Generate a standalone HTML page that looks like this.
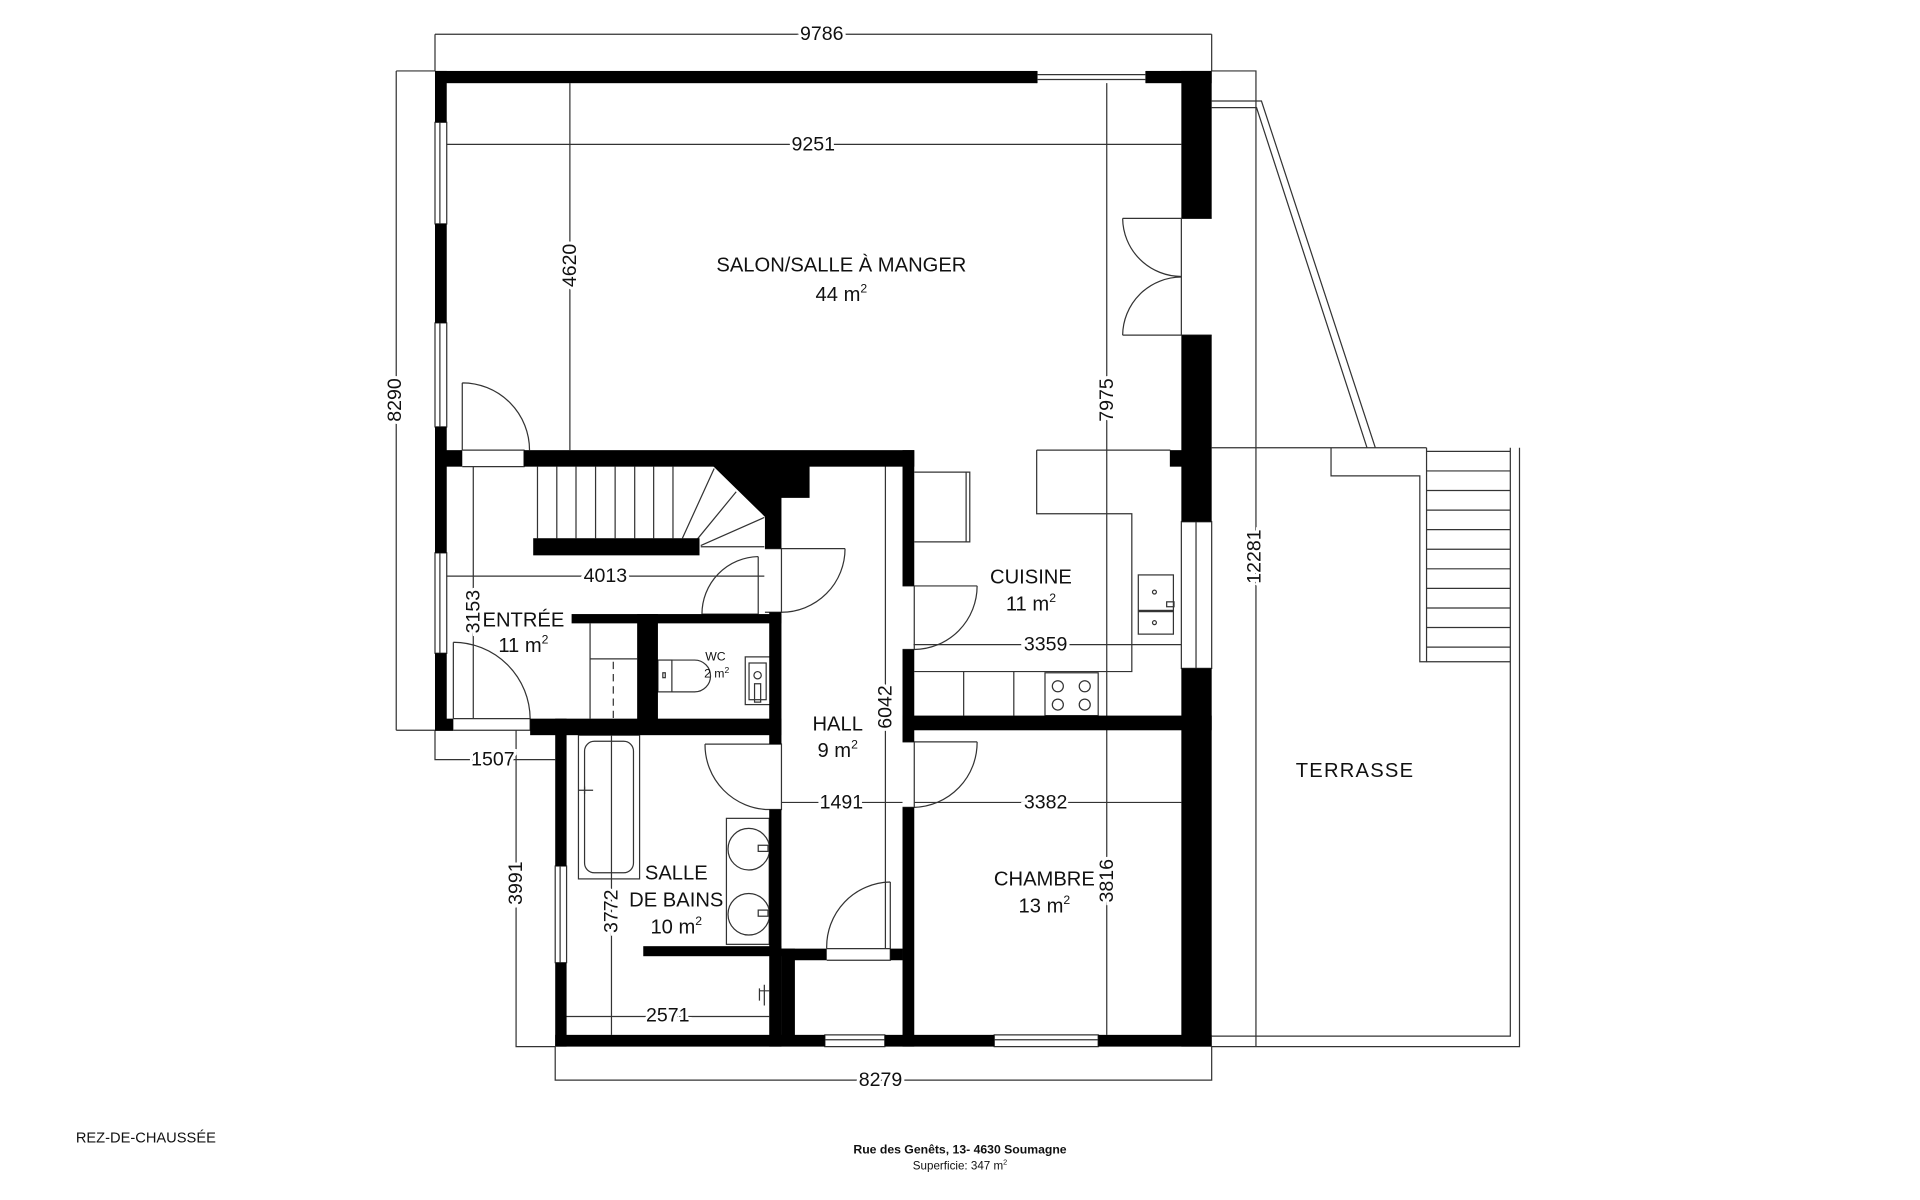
<!DOCTYPE html>
<html><head><meta charset="utf-8"><style>
html,body{margin:0;padding:0;background:#fff}
svg{display:block}
text{font-family:"Liberation Sans",sans-serif;fill:#111}
.d{font-size:16px;text-anchor:middle;dominant-baseline:central;paint-order:stroke;stroke:#fff;stroke-width:5px}
.r{font-size:16.5px;text-anchor:middle}
</style></head><body>
<svg width="1920" height="1200" viewBox="0 0 1570 981" preserveAspectRatio="none" xmlns="http://www.w3.org/2000/svg">
<rect width="1570" height="981" fill="#fff"/>
<g fill="none" stroke="#333" stroke-width="1">
<path d="M355.7 28H990.8M355.7 28V58M990.8 28V58"/>
<path d="M324 58V597M324 58H355.7M324 597H355.7"/>
<path d="M365 118H966"/>
<path d="M466 68V368"/>
<path d="M905 68V846"/>
<path d="M365 471H625"/>
<path d="M387 381V587"/>
<path d="M747 527H966"/>
<path d="M724 381V775"/>
<path d="M355.7 597V621H454M422 597V855.6H454"/>
<path d="M639 656H738M747.6 656H966"/>
<path d="M500 601V846"/>
<path d="M463 831H629"/>
<path d="M454 855.6V883H990.8V855.6"/>
<path d="M990.8 58H1027V855.6"/>
<path d="M990.8 82.6H1031.5L1124.6 366M990.8 88H1027.5L1117.8 366"/>
<path d="M990.8 366H1166.5M1088.4 366V389H1161V541H1166.5V366"/>
<path d="M1166.5 369H1235M1166.5 541H1235"/>
<path d="M1166.5 385H1235M1166.5 401H1235M1166.5 417H1235M1166.5 433H1235M1166.5 449H1235M1166.5 465H1235M1166.5 481H1235M1166.5 497H1235M1166.5 513H1235M1166.5 529H1235"/>
<path d="M1235 366V847H990.8M1242.5 366V855.6H990.8"/>
<path d="M847.7 368H957M847.7 368V420H925.5V549H747.6"/>
<path d="M747.6 386H793V443H747.6M790 386V443"/>
<path d="M788 549V585M829 549V585"/>
<rect x="854.5" y="550" width="43.5" height="35"/>
<circle cx="865" cy="561" r="4.5"/><circle cx="887" cy="561" r="4.5"/><circle cx="865" cy="576" r="4.5"/><circle cx="887" cy="576" r="4.5"/>
<rect x="930.8" y="470" width="28.7" height="29"/><rect x="930.8" y="500" width="28.7" height="18.4"/>
<circle cx="944" cy="484" r="1.6"/><circle cx="944" cy="509" r="1.6"/><rect x="954" y="492" width="6" height="4"/>
<path d="M848 58V68M937 58V68M848 61H937M848 65H937"/>
<path d="M966 426.5H990.8V546.4H966ZM978 426.5V546.4"/>
<path d="M966 178.5H990.8M966 274H990.8M966 178.5V274"/>
<path d="M355.7 100H365.3V183H355.7ZM359.7 100V183M355.7 264H365.3V349H355.7ZM359.7 264V349M355.7 452H365.3V534H355.7ZM359.7 452V534"/>
<path d="M454 708H463.3V787H454ZM458 708V787"/>
<path d="M674.5 846H723.5V855.6H674.5ZM674.5 850H723.5M813 846H898V855.6H813ZM813 850H898"/>
<path d="M918 178.5H966M918 274H966M918 178.5A48 48 0 0 0 966 226M918 274A48 48 0 0 1 966 226.5"/>
<path d="M378 313V368M378 313A55 55 0 0 1 433 368M378 368H428.5V381.5H378"/>
<path d="M370.7 525V587.5M370.7 525A63 63 0 0 1 433.5 587.5M370.7 587.5H433.5V597H370.7"/>
<path d="M620 455V502M620 455A47 47 0 0 0 574 502M574 502H620"/>
<path d="M639 448.5H691M691 448.5A52 52 0 0 1 639 500.5M625.5 448.5H639V500.5H625.5"/>
<path d="M747.6 479H799M799 479A52 52 0 0 1 747.6 531M738 479H747.6V531H738"/>
<path d="M629 608.3H576.5M576.5 608.3A53 53 0 0 0 629 661.8M629 608.3H639V661.8H629"/>
<path d="M747.6 606.5H799M799 606.5A53 53 0 0 1 747.6 660M738 606.5H747.6V660H738"/>
<path d="M728 721V775.5M728 721A53 53 0 0 0 676 775.5M676 775.5H728V785H676"/>
<path d="M439.5 381.5V440M455.3 381.5V440M471 381.5V440M487 381.5V440M503 381.5V440M519 381.5V440M534.5 381.5V440M550.3 381.5V440"/>
<path d="M558 440L584 383M570 441L602 402M573 446L625 423M573 447L625 447"/>
<path d="M482.5 509.6V587.5M482.5 538.6H521"/>
<path d="M501.5 541V587" stroke-dasharray="6 4"/>
<rect x="538" y="539.6" width="11.4" height="26"/>
<path d="M549.4 539.6H568A13 13 0 0 1 568 565.6H549.4"/>
<rect x="542" y="550" width="2" height="4"/>
<rect x="609.4" y="537" width="20.6" height="39"/>
<rect x="612.5" y="542" width="14" height="30"/>
<circle cx="619.5" cy="552" r="3"/><path d="M617 559H622V574H617Z"/>
<rect x="473" y="601" width="50" height="117.5"/>
<rect x="478" y="606" width="40" height="107.5" rx="8"/>
<path d="M473 646H485M478 643V649"/>
<rect x="594" y="669" width="35" height="103"/>
<circle cx="612.3" cy="694.2" r="17"/><circle cx="612.3" cy="747.4" r="17"/>
<rect x="620" y="691" width="8" height="5"/><rect x="620" y="744" width="8" height="5"/>
<path d="M621.4 810H629M621 808V818M625 805V822"/>
</g>
<g fill="#000">
<rect x="355.7" y="58" width="492.3" height="10"/>
<rect x="937" y="58" width="53.8" height="10"/>
<rect x="966" y="58" width="24.8" height="120.5"/>
<rect x="966" y="274" width="24.8" height="152.5"/>
<rect x="966" y="546.4" width="24.8" height="309.2"/>
<rect x="956.6" y="368" width="10" height="13.5"/>
<rect x="355.7" y="58" width="9.6" height="42"/>
<rect x="355.7" y="183" width="9.6" height="81"/>
<rect x="355.7" y="349" width="9.6" height="103"/>
<rect x="355.7" y="534" width="9.6" height="63"/>
<rect x="355.7" y="368" width="22.3" height="13.5"/>
<rect x="428.5" y="368" width="319.1" height="13.5"/>
<polygon points="583,381 662,381 662,407 639,407 639,448.5 625.5,448.5 625.5,422.5"/>
<rect x="436" y="440" width="136" height="14"/>
<rect x="738" y="368" width="9.6" height="111"/>
<rect x="738" y="531" width="9.6" height="75.5"/>
<rect x="738" y="660" width="9.6" height="195.6"/>
<rect x="738" y="585" width="252.8" height="12"/>
<rect x="629" y="500.5" width="10" height="107.8"/>
<rect x="629" y="661.8" width="10" height="193.8"/>
<rect x="467.4" y="502" width="171.6" height="7.6"/>
<rect x="521" y="502" width="17" height="87"/>
<rect x="355.7" y="587.5" width="15" height="10"/>
<rect x="433.5" y="587.5" width="205.5" height="13.5"/>
<rect x="454" y="587.5" width="9.3" height="120.5"/>
<rect x="454" y="787" width="9.3" height="68.6"/>
<rect x="454" y="846" width="220.5" height="9.6"/>
<rect x="723.5" y="846" width="89.5" height="9.6"/>
<rect x="898" y="846" width="92.8" height="9.6"/>
<rect x="526" y="773.5" width="113" height="8.2"/>
<rect x="639" y="775.5" width="37" height="9.5"/>
<rect x="728" y="775.5" width="10" height="9.5"/>
<rect x="639" y="775.5" width="11" height="80"/>
</g>
<text class="d" x="672" y="28">9786</text>
<text class="d" x="665" y="118">9251</text>
<text class="d" transform="translate(466,217) rotate(-90)">4620</text>
<text class="d" transform="translate(323,327) rotate(-90)">8290</text>
<text class="d" transform="translate(905,327) rotate(-90)">7975</text>
<text class="d" x="495" y="471">4013</text>
<text class="d" transform="translate(387,500) rotate(-90)">3153</text>
<text class="d" x="855" y="527">3359</text>
<text class="d" transform="translate(724,578) rotate(-90)">6042</text>
<text class="d" x="403" y="621">1507</text>
<text class="d" x="688" y="656">1491</text>
<text class="d" x="855" y="656">3382</text>
<text class="d" transform="translate(422,722) rotate(-90)">3991</text>
<text class="d" transform="translate(500,745) rotate(-90)">3772</text>
<text class="d" transform="translate(905,720) rotate(-90)">3816</text>
<text class="d" x="546" y="830">2571</text>
<text class="d" x="720" y="883">8279</text>
<text class="d" transform="translate(1026,455) rotate(-90)">12281</text>
<text class="r" x="688" y="222">SALON/SALLE À MANGER</text>
<text class="r" x="688" y="246">44 m<tspan dy="-7" font-size="10">2</tspan></text>
<text class="r" x="843" y="477">CUISINE</text>
<text class="r" x="843" y="499">11 m<tspan dy="-7" font-size="10">2</tspan></text>
<text class="r" x="428" y="512">ENTRÉE</text>
<text class="r" x="428" y="533">11 m<tspan dy="-7" font-size="10">2</tspan></text>
<text class="r" x="585" y="540" style="font-size:10px">WC</text>
<text class="r" x="586" y="554" style="font-size:10px">2 m<tspan dy="-4" font-size="7">2</tspan></text>
<text class="r" x="685" y="597">HALL</text>
<text class="r" x="685" y="619">9 m<tspan dy="-7" font-size="10">2</tspan></text>
<text class="r" x="553" y="719">SALLE</text>
<text class="r" x="553" y="741">DE BAINS</text>
<text class="r" x="553" y="763">10 m<tspan dy="-7" font-size="10">2</tspan></text>
<text class="r" x="854" y="724">CHAMBRE</text>
<text class="r" x="854" y="746">13 m<tspan dy="-7" font-size="10">2</tspan></text>
<text class="r" x="1108" y="635" style="letter-spacing:1px">TERRASSE</text>
<text x="62" y="934" style="font-size:12px">REZ-DE-CHAUSSÉE</text>
<text x="785" y="943" style="font-size:10px;font-weight:bold;text-anchor:middle">Rue des Genêts, 13- 4630 Soumagne</text>
<text x="785" y="956" style="font-size:9.5px;text-anchor:middle">Superficie: 347 m<tspan dy="-4" font-size="6">2</tspan></text>
</svg>
</body></html>
